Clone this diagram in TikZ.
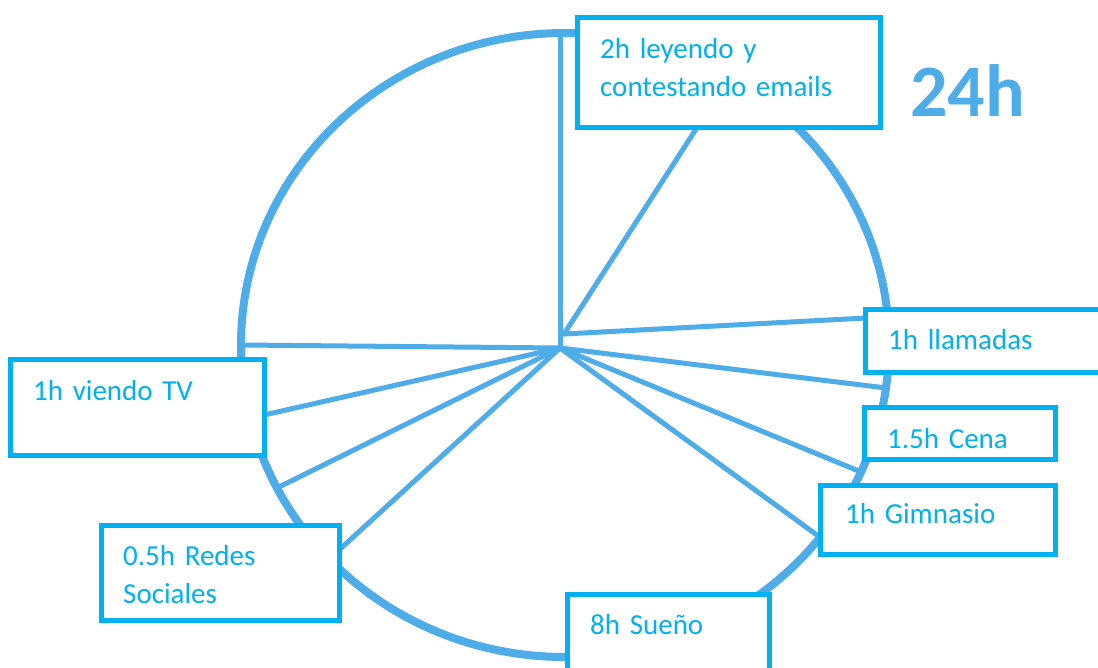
\documentclass[tikz,border=0pt]{standalone}
\usepackage{fontspec}
\setmainfont{Carlito}
\definecolor{ringblue}{RGB}{78,172,233}
\definecolor{boxblue}{RGB}{0,176,240}
\tikzset{
	ring/.style={draw=ringblue, line width=8pt},
	spoke/.style={draw=ringblue, line width=5pt, line cap=round},
	box/.style={draw=boxblue, fill=white, line width=5pt, rectangle, inner sep=0pt},
	lbl/.style={font=\fontsize{29}{38}\selectfont, text=boxblue, inner sep=0pt, anchor=base west, align=left, text width=300pt}
}

\begin{document}
\begin{tikzpicture}[x=1pt,y=-1pt]
		\clip (0,0) rectangle (1098,668);
		\fill[white] (0,0) rectangle (1098,668);
		\draw[ring] (565,345) ellipse [x radius=324, y radius=312];
		\coordinate (hub) at (560,348);
		\coordinate (hubtop) at (564,334);
		\coordinate (ringtop) at (560,34);
		\coordinate (ringleft) at (241,345);
		\coordinate (emailsend) at (698,126);
		\coordinate (llamadasend) at (866,318);
		\coordinate (ringright) at (886,388);
		\coordinate (cenaend) at (861,472);
		\coordinate (gimnasioend) at (821,538);
		\coordinate (redesend) at (339,550);
		\coordinate (ringlow) at (277,488);
		\coordinate (tvend) at (264,415);
		\foreach \a/\b in {hub/ringtop,hub/ringleft,hubtop/emailsend,hubtop/llamadasend,hub/ringright,hub/cenaend,hub/gimnasioend,hub/redesend,hub/ringlow,hub/tvend} {
			\draw[spoke] (\a) -- (\b);
		}
		\node[box, minimum width=303pt, minimum height=110pt] (emails) at (729,72.5) {};
		\node[box, minimum width=250pt, minimum height=63pt] (llamadas) at (990.5,341) {};
		\node[box, minimum width=191pt, minimum height=52pt] (cena) at (960,433.5) {};
		\node[box, minimum width=235pt, minimum height=69.5pt] (gimnasio) at (938,519.75) {};
		\node[box, minimum width=202pt, minimum height=100pt] (sueno) at (668.5,644.5) {};
		\node[box, minimum width=254pt, minimum height=96pt] (tv) at (137.5,407.5) {};
		\node[box, minimum width=238pt, minimum height=95.5pt] (redes) at (220.5,572.75) {};
		\node[lbl] (emailstxt) at (600,59) {2h leyendo y\\contestando emails};
		\node[lbl] (llamadastxt) at (888,350) {1h llamadas};
		\node[lbl] (cenatxt) at (887,448) {1.5h Cena};
		\node[lbl] (gimnasiotxt) at (845,523) {1h Gimnasio};
		\node[lbl] (suenotxt) at (590,634) {8h Sueño};
		\node[lbl] (tvtxt) at (33,400) {1h viendo TV};
		\node[lbl] (redestxt) at (123,565) {0.5h Redes\\Sociales};
		\node[font=\fontsize{74}{80}\selectfont\bfseries, text=ringblue, inner sep=0pt, anchor=base] (total) at (967.5,117) {24h};
\end{tikzpicture}
\end{document}
